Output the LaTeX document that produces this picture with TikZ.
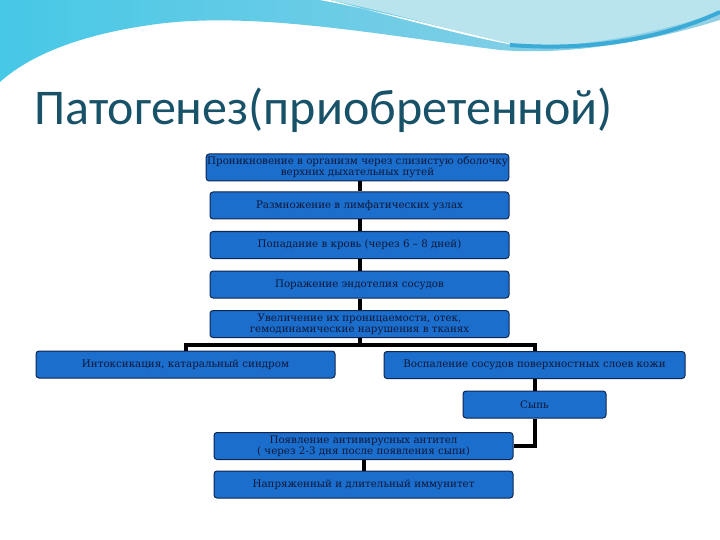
\documentclass[tikz,border=0pt]{standalone}
\usepackage{fontspec}
\setmainfont{DejaVu Serif}
\newfontfamily\titulfont{Carlito}
\usepackage{xcolor}
\usetikzlibrary{calc,positioning}
\definecolor{sinij}{RGB}{28,110,205}
\definecolor{kontur}{RGB}{14,38,80}
\definecolor{tekst}{RGB}{12,24,56}
\definecolor{titul}{RGB}{24,82,104}
\definecolor{goluboj}{RGB}{150,208,230}
\definecolor{biryuza}{RGB}{70,200,230}
\definecolor{svetlyj}{RGB}{185,228,238}
\definecolor{duga}{RGB}{58,170,214}
\tikzset{
  etap/.style={rectangle,rounded corners=3pt,fill=sinij,draw=kontur,line width=1pt,
    text=tekst,font=\fontsize{10.3}{11}\selectfont,align=center,inner sep=1pt,
    minimum height=27pt},
  liniya/.style={black,line width=4pt},
  titul/.style={anchor=west,text=titul,font=\titulfont\fontsize{50}{54}\selectfont,inner sep=0pt}
}
\begin{document}
\begin{tikzpicture}[x=1pt,y=-1pt]
\useasboundingbox (0,0) rectangle (720,540);
% fon
\shade[left color=biryuza,right color=goluboj] (0,0) -- (720,0) -- (720,20)
  .. controls (640,45) and (560,55) .. (500,50)
  .. controls (380,35) and (250,10) .. (150,25)
  .. controls (80,35) and (30,55) .. (0,82) -- cycle;
\fill[svetlyj] (330,0) -- (720,0) -- (720,12) .. controls (650,35) and (580,48) .. (520,46)
  .. controls (450,30) and (390,12) .. (330,0) -- cycle;
\fill[white] (320,0) .. controls (400,15) and (470,35) .. (525,47)
  .. controls (470,38) and (400,18) .. (330,0) -- cycle;
\draw[duga,line width=4pt] (510,45) .. controls (600,52) and (670,35) .. (720,12);
% zagolovok
\node[titul] (zag) at (34,110) {Патогенез(приобретенной)};
% bloki
\node[etap,minimum width=299pt] (pronik) at (357.5,167.5) {Проникновение в организм через слизистую оболочку\\верхних дыхательных путей};
\node[etap,minimum width=299pt] (razm) at (359.5,205.5) {Размножение в лимфатических узлах};
\node[etap,minimum width=299pt] (krov) at (359.5,245) {Попадание в кровь (через 6 -- 8 дней)};
\node[etap,minimum width=299pt] (endot) at (359.5,284.5) {Поражение эндотелия сосудов};
\node[etap,minimum width=299pt] (pronic) at (359.5,324) {Увеличение их проницаемости, отек,\\гемодинамические нарушения в тканях};
\node[etap,minimum width=299pt] (intoks) at (185.5,364.5) {Интоксикация, катаральный синдром};
\node[etap,minimum width=301pt] (vospal) at (534.5,365) {Воспаление сосудов поверхностных слоев кожи};
\node[etap,minimum width=143pt] (syp) at (534.5,404.5) {Сыпь};
\node[etap,minimum width=299pt] (antitela) at (363.5,446) {Появление антивирусных антител\\( через 2-3 дня после появления сыпи)};
\node[etap,minimum width=299pt] (immun) at (363.5,484.5) {Напряженный и длительный иммунитет};
\coordinate (razv) at (359.5,345);
% svyazi
\draw[liniya] (razm.north |- pronik.south) -- (razm.north);
\draw[liniya] (razm) -- (krov);
\draw[liniya] (krov) -- (endot);
\draw[liniya] (endot) -- (pronic);
\draw[liniya] (pronic.south) -- (razv);
\draw[liniya] (intoks.north) |- (razv) -| (vospal.north);
\draw[liniya] (vospal) -- (syp);
\draw[liniya] (syp.south) |- (antitela.east);
\draw[liniya] (antitela.south -| immun.north) -- (immun.north);
\end{tikzpicture}
\end{document}
